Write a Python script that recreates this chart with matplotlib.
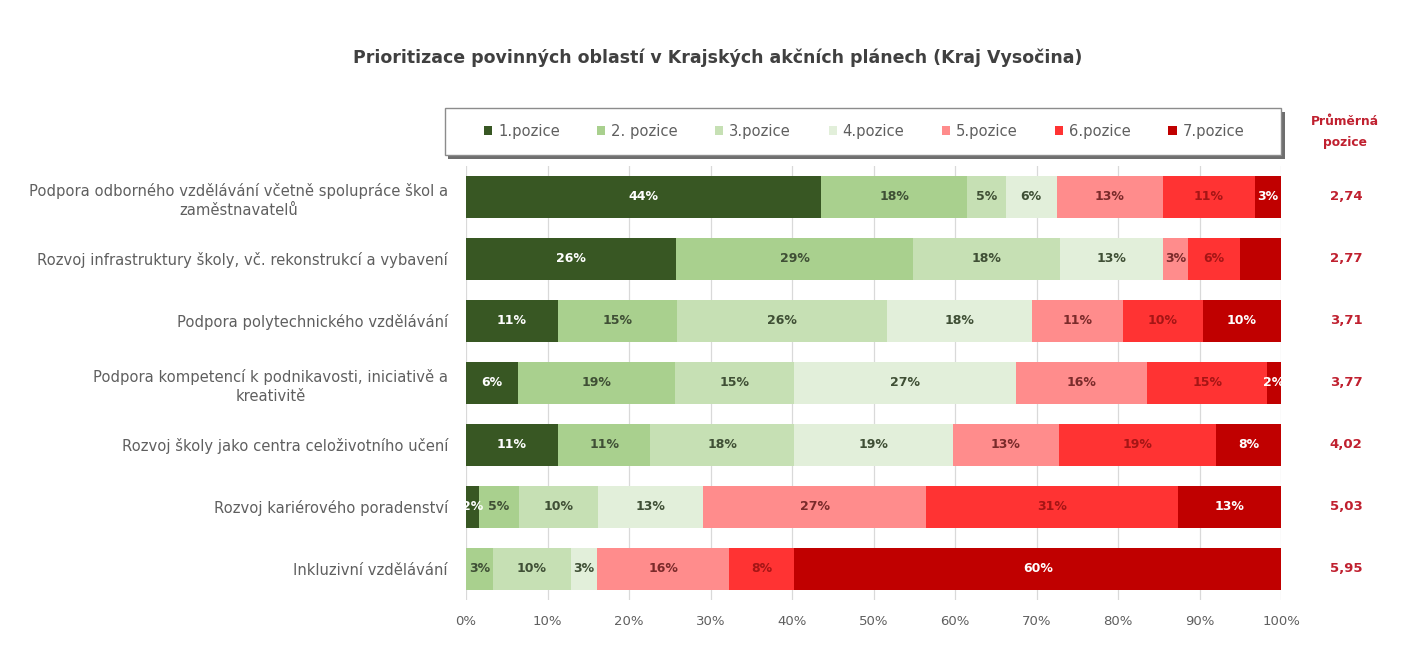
import matplotlib
matplotlib.use("Agg")
import matplotlib.pyplot as plt
import matplotlib.patches as mpatches
import numpy as np

plt.rcParams["font.family"] = ["DejaVu Sans"]

# ─── Dados ────────────────────────────────────────────────────────────────────
oblasti = [
    "Podpora odborného vzdělávání včetně spolupráce škol a\nzaměstnavatelů",
    "Rozvoj infrastruktury školy, vč. rekonstrukcí a vybavení",
    "Podpora polytechnického vzdělávání",
    "Podpora kompetencí k podnikavosti, iniciativě a\nkreativitě",
    "Rozvoj školy jako centra celoživotního učení",
    "Rozvoj kariérového poradenství",
    "Inkluzivní vzdělávání",
]
pozice = ["1.pozice", "2. pozice", "3.pozice", "4.pozice", "5.pozice", "6.pozice", "7.pozice"]

# podíl (%) pro každou pozici, po řádcích (oblastech)
pos1 = [43.6, 25.8, 11.3, 6.4, 11.3, 1.6, 0.0]
pos2 = [17.9, 29.0, 14.6, 19.2, 11.3, 4.9, 3.3]
pos3 = [4.7, 18.1, 25.7, 14.6, 17.7, 9.7, 9.6]
pos4 = [6.3, 12.6, 17.8, 27.3, 19.4, 12.9, 3.2]
pos5 = [13.0, 3.1, 11.2, 16.1, 13.0, 27.4, 16.2]
pos6 = [11.3, 6.4, 9.8, 14.7, 19.3, 30.9, 8.0]
pos7 = [3.2, 5.0, 9.6, 1.7, 8.0, 12.6, 59.7]
prumer = ["2,74", "2,77", "3,71", "3,77", "4,02", "5,03", "5,95"]

# popisky, které v originálu chybí (řádek, pozice)
skryte = {(1, 6)}

BARVY = ["#385723", "#A9D08E", "#C6E0B4", "#E2EFDA", "#FF8C8C", "#FF3333", "#C00000"]
BARVY_TEXT = ["white", "#3F4F35", "#3F4F35", "#3F4F35", "#7A2A2A", "#A51515", "white"]
SEDA = "#5F5F5F"
CERVENA = "#C0202F"

# ─── Graf ─────────────────────────────────────────────────────────────────────
data = np.array([pos1, pos2, pos3, pos4, pos5, pos6, pos7])
y = np.arange(len(oblasti))

fig = plt.figure(figsize=(14.13, 6.46), dpi=100)
ax = fig.add_axes([0.3298, 0.0712, 0.5768, 0.672])

left = np.zeros(len(oblasti))
for j, nazev in enumerate(pozice):
    hodnoty = data[j]
    bars = ax.barh(y, hodnoty, left=left, height=0.68, color=BARVY[j], label=nazev, zorder=2)
    for i, (b, v) in enumerate(zip(bars, hodnoty)):
        if v <= 0 or (i, j) in skryte:
            continue
        ax.text(left[i] + v / 2, i, f"{v:.0f}%", ha="center", va="center",
                fontsize=9, fontweight="bold", color=BARVY_TEXT[j], zorder=3)
    left += hodnoty

ax.set_xlim(0, 100)
ax.set_ylim(len(oblasti) - 0.5, -0.5)
ax.set_xticks(np.arange(0, 101, 10))
ax.set_xticklabels([f"{t}%" for t in range(0, 101, 10)], color=SEDA, fontsize=9.5)
ax.set_yticks(y)
ax.set_yticklabels(oblasti, color=SEDA, fontsize=10.6)
for t in ax.get_yticklabels():
    t.set_multialignment("center")
    t.set_linespacing(1.35)
ax.tick_params(axis="both", length=0)
ax.tick_params(axis="y", pad=13)
ax.tick_params(axis="x", pad=11)
ax.grid(axis="x", color="#D9D9D9", linewidth=0.9, zorder=0)
for s in ax.spines.values():
    s.set_visible(False)

# průměrná pozice vpravo
for i, txt in enumerate(prumer):
    ax.text(1.08, i, txt, transform=ax.get_yaxis_transform(), ha="center", va="center",
            fontsize=9.5, fontweight="bold", color=CERVENA)
fig.text(0.952, 0.796, "Průměrná\npozice", ha="center", va="center", fontsize=8.8,
         fontweight="bold", color=CERVENA, linespacing=1.75)

fig.suptitle("Prioritizace povinných oblastí v Krajských akčních plánech (Kraj Vysočina)",
             x=0.508, y=0.925, fontsize=12.5, fontweight="bold", color="#404040")

# rámeček legendy se stínem
x0, y0, w, h = 0.3149, 0.760, 0.5917, 0.073
fig.patches.append(mpatches.Rectangle((x0 + 0.0025, y0 - 0.006), w, h, transform=fig.transFigure,
                                      facecolor="#6E6E6E", edgecolor="none", zorder=0))
fig.patches.append(mpatches.Rectangle((x0, y0), w, h, transform=fig.transFigure,
                                      facecolor="white", edgecolor="#8C8C8C", linewidth=1, zorder=1))

leg = fig.legend(loc="center left", bbox_to_anchor=(0.3425, 0.7965), ncol=7, frameon=False,
                 fontsize=10.6, handlelength=0.55, handleheight=0.55, columnspacing=2.55,
                 handletextpad=0.4, borderpad=0, borderaxespad=0)
for t in leg.get_texts():
    t.set_color(SEDA)

fig.savefig("out.png", dpi=100, facecolor="white")
